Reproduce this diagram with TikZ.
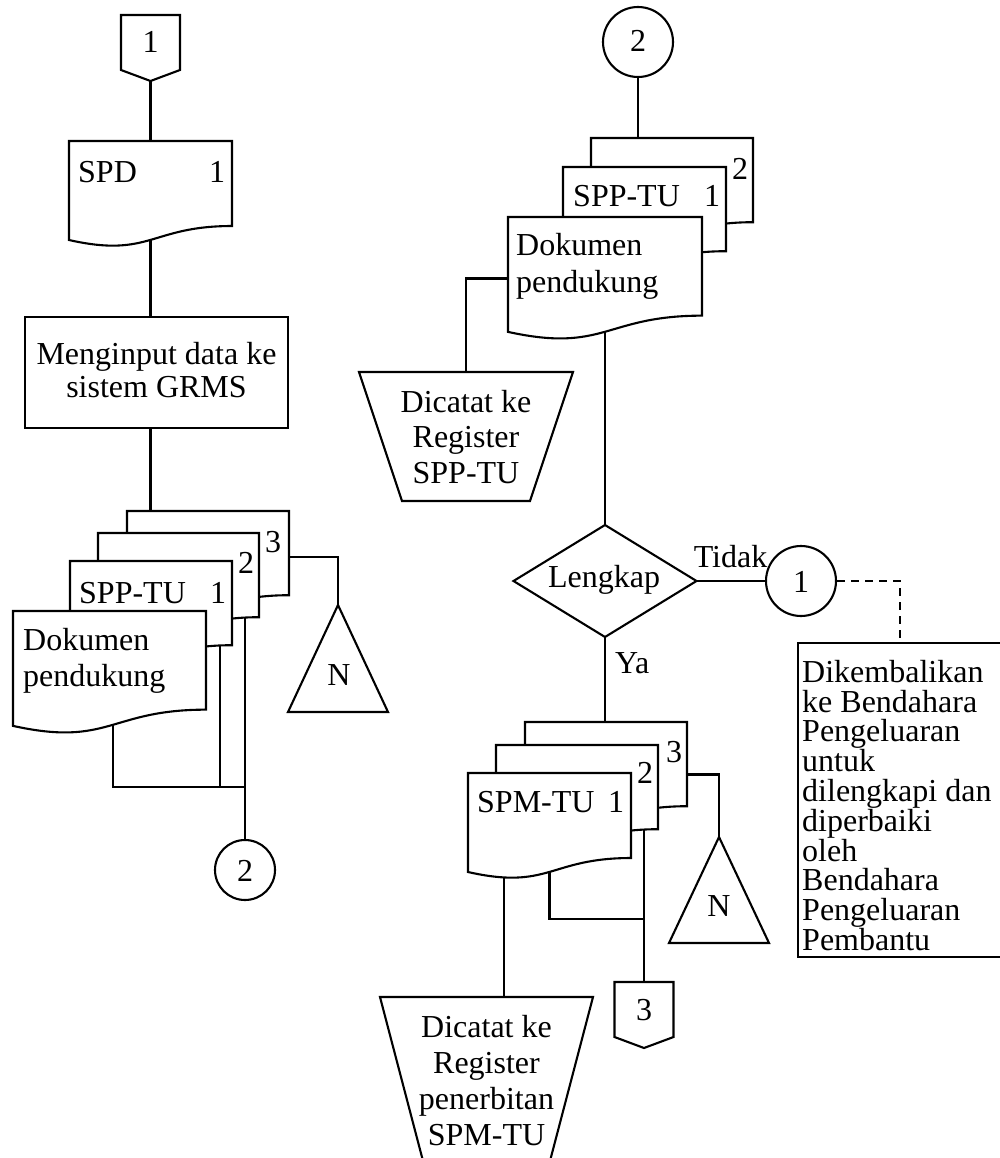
\documentclass[tikz,border=0pt]{standalone}
\usepackage{fontspec}
\setmainfont{Liberation Serif}
\usetikzlibrary{calc,backgrounds}

\newcommand\fs{\fontsize{32}{36}\selectfont}
% uniform line strut: height 0.7em, depth 0.2em
\newcommand\st{\rule[-0.2em]{0pt}{0.9em}}

\tikzset{
  fcline/.style={line width=2.1pt},
  fcshape/.style={fcline, fill=white, line join=miter},
  fcbare/.style={inner sep=0pt, outer sep=0pt},
  fctext/.style={font=\fs, inner sep=0pt, anchor=base},
  fctextw/.style={fctext, anchor=base west},
  fcpara/.style={font={\fontsize{32}{#1}\selectfont}, inner sep=0pt},
  fccircle/.style={draw, fcline, fill=white, circle, inner sep=0pt, minimum size=#1},
}

% document symbol: name, left x, top y, right x, height
\newcommand\docshape[5]{%
  \node[fcbare, minimum width={(#4-#2)*1pt}, minimum height={#5*1pt}] (#1) at ({(#2+#4)/2},{#3+#5/2}) {};
  \draw[fcshape] (#1.north west) -- (#1.north east)
    -- ($(#1.north east)!0.802!(#1.south east)$)
    .. controls ($(#1.north)!0.802!(#1.south)$) and ($(#1.north)!1.1075!(#1.south)$)
    .. ($(#1.north west)!0.934!(#1.south west)$) -- cycle;}

% off-page connector: name, centre x, top y
\newcommand\offpage[3]{%
  \node[fcbare, minimum width=59pt, minimum height=66pt] (#1) at (#2,{#3+33}) {};
  \draw[fcshape] (#1.north west) -- (#1.north east) -- ([yshift=11pt]#1.south east)
    -- (#1.south) -- ([yshift=11pt]#1.south west) -- cycle;}

% manual operation: name, left x, top y, right x, bottom y, inset of the bottom corners
\newcommand\manop[6]{%
  \node[fcbare, minimum width={(#4-#2)*1pt}, minimum height={(#5-#3)*1pt}] (#1) at ({(#2+#4)/2},{(#3+#5)/2}) {};
  \draw[fcshape] (#1.north west) -- (#1.north east) -- ([xshift=-#6pt]#1.south east)
    -- ([xshift=#6pt]#1.south west) -- cycle;}

% offline storage triangle: name, apex x, apex y, base y, half width
\newcommand\mergetri[5]{%
  \node[fcbare, minimum width={2*#5*1pt}, minimum height={(#4-#3)*1pt}] (#1) at (#2,{(#3+#4)/2}) {};
  \draw[fcshape] (#1.north) -- (#1.south east) -- (#1.south west) -- cycle;}

\begin{document}
\begin{tikzpicture}[x=1pt,y=-1pt]
\useasboundingbox (0,0) rectangle (1000,1158);
\clip (0,0) rectangle (1000,1158);

% ---------- left column ----------
\offpage{op1}{150.5}{15}
\docshape{spd}{69}{141}{232}{106}
\node[draw, fill=white, fcline, fcpara=33, align=center, minimum width=263pt, minimum height=111pt]
  (proc) at (156.5,372.5) {\st Menginput data ke\\\st sistem GRMS};
\docshape{lpg3}{127}{511}{289}{105}
\docshape{lpg2}{98}{533}{259}{105}
\docshape{lpg1}{70}{561}{232}{105}
\docshape{ldok}{13}{611}{206}{123}
\mergetri{ltri}{338}{605}{712}{50}
\node[fccircle=60pt] (lc2) at (245,870) {};

% ---------- right column ----------
\node[fccircle=70pt] (rc2) at (638,42) {};
\docshape{rpg2}{591}{138}{753}{105}
\docshape{rpg1}{563}{167}{726}{105}
\docshape{rdok}{508}{217}{702}{123}
\manop{rreg}{359}{372}{573}{501}{43}
\node[fcbare, minimum width=183pt, minimum height=112pt] (dia) at (605,581) {};
\draw[fcshape] (dia.north) -- (dia.east) -- (dia.south) -- (dia.west) -- cycle;
\node[fccircle=70pt] (rc1) at (801,581) {};
\node[draw, fill=white, fcline, fcbare, minimum width=204pt, minimum height=314pt] (note) at (900,800) {};
\docshape{bpg3}{525}{722}{687}{105}
\docshape{bpg2}{496}{745}{658}{105}
\docshape{bpg1}{468}{773}{631}{106}
\mergetri{btri}{719}{837}{943}{50}
\offpage{op3}{644}{982}
\manop{rreg2}{380}{997}{593}{1180}{48}

% ---------- texts ----------
\node[fctext] (t-op1) at (150.5,53) {1};
\node[fctextw] (t-spd) at (78,183) {SPD};
\node[fctext] (t-spd1) at (217,183) {1};
\node[fctext] (t-l3) at (273,552) {3};
\node[fctext] (t-l2) at (246,573) {2};
\node[fctextw] (t-lspp) at (79,603) {SPP-TU};
\node[fctext] (t-l1) at (218,603) {1};
\node[fcpara=36, align=left, anchor=north west] (t-ldok) at (23,628) {\st Dokumen\\\st pendukung};
\node[fctext] (t-ln) at (339,685) {N};
\node[fctext] (t-lc2) at (245,881) {2};

\node[fctext] (t-rc2) at (638,52) {2};
\node[fctext] (t-r2) at (740,180) {2};
\node[fctextw] (t-rspp) at (573,207) {SPP-TU};
\node[fctext] (t-r1) at (712,207) {1};
\node[fcpara=37, align=left, anchor=north west] (t-rdok) at (516,232.6) {\st Dokumen\\\st pendukung};
\node[fcpara=35.5, align=center, anchor=north] (t-rreg) at (466,389.6) {\st Dicatat ke\\\st Register\\\st SPP-TU};
\node[fctext] (t-dia) at (604,587) {Lengkap};
\node[fctext] (t-tidak) at (730.5,567) {Tidak};
\node[fctext] (t-rc1) at (801,592) {1};
\node[fcpara=29.8, align=left, anchor=north west] (t-note) at (802,659.6)
  {\st Dikembalikan\\\st ke Bendahara\\\st Pengeluaran\\\st untuk\\\st dilengkapi dan\\\st diperbaiki\\\st oleh\\\st Bendahara\\\st Pengeluaran\\\st Pembantu};
\node[fctextw] (t-ya) at (615,673) {Ya};
\node[fctext] (t-b3) at (674,762) {3};
\node[fctext] (t-b2) at (645,783) {2};
\node[fctextw] (t-bspm) at (477,812) {SPM-TU};
\node[fctext] (t-b1) at (616,812) {1};
\node[fctext] (t-bn) at (719,916) {N};
\node[fctext] (t-op3) at (644,1020) {3};
\node[fcpara=36, align=center, anchor=north] (t-rreg2) at (486.5,1014.6)
  {\st Dicatat ke\\\st Register\\\st penerbitan\\\st SPM-TU};

% ---------- connectors (behind the symbols) ----------
\begin{scope}[on background layer]
\fill[white] (0,0) rectangle (1000,1158);
\draw[fcline] (op1.south) -- (spd.north);
\draw[fcline] (spd.center) -- (spd.center |- proc.north);
\draw[fcline] (spd.center |- proc.south) -- (spd.center |- lpg3.north);
\draw[fcline] ([yshift=6.5pt]lpg3.east) -| (ltri.north);
\draw[fcline] ([xshift=-14pt]lpg2.east) -- (lc2.north);
\coordinate (ljoin) at (246,787);
\draw[fcline] ([xshift=-12pt]lpg1.east) |- (ljoin);
\draw[fcline] ([xshift=3.5pt]ldok.center) |- (ljoin);

\draw[fcline] (rc2.south) -- (rc2.south |- rpg2.north);
\draw[fcline] (rdok.center) -| (rreg.north);
\draw[fcline] (rdok.center) -- (dia.north);
\draw[fcline] (dia.east) -- (rc1.west);
\draw[fcline, dash pattern=on 8pt off 6pt] (rc1.east) -| (note.north);
\draw[fcline] (dia.south) -- (dia.south |- bpg3.north);
\draw[fcline] (bpg3.east) -| (btri.north);
\draw[fcline] ([xshift=-14pt]bpg2.east) -- (op3.north);
\coordinate (bjoin) at (644,919);
\draw[fcline] (bpg1.center) |- (bjoin);
\draw[fcline] ([xshift=-45.5pt]bpg1.center) -- ([xshift=-45.5pt]bpg1.center |- rreg2.north);
\end{scope}
\end{tikzpicture}
\end{document}
